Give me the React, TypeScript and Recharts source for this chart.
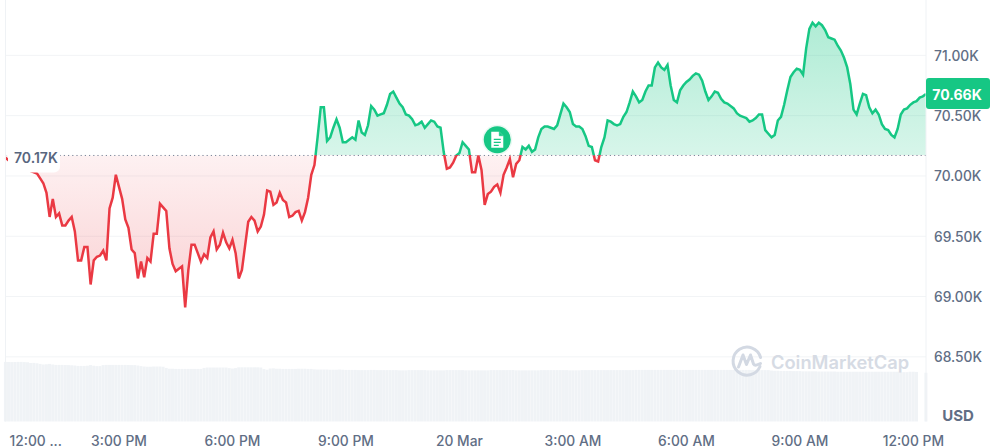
import React from "react";
import {
  ComposedChart, Area, Bar, XAxis, YAxis, CartesianGrid, ReferenceLine, ReferenceDot,
} from "recharts";

const FONT = "Inter, 'Noto Sans', sans-serif";
const GREEN = "#16c784";
const RED = "#ea3943";
const TEXT = "#616e85";

const basePrice = 70.17;
const lastPriceLabel = "70.66K";
const basePriceLabel = "70.17K";

const prices = [
  70.15, 70.13, 70.12, 70.13, 70.12, 70.10, 70.08, 70.05, 70.04, 70.03,
  70.02, 69.98, 69.94, 69.86, 69.66, 69.81, 69.66, 69.69, 69.59, 69.59,
  69.63, 69.66, 69.54, 69.30, 69.30, 69.41, 69.41, 69.10, 69.30, 69.33,
  69.34, 69.38, 69.30, 69.73, 69.82, 70.01, 69.91, 69.81, 69.64, 69.57,
  69.39, 69.36, 69.15, 69.29, 69.16, 69.32, 69.29, 69.52, 69.52, 69.77,
  69.74, 69.71, 69.40, 69.27, 69.21, 69.23, 69.25, 68.91, 69.22, 69.43,
  69.43, 69.36, 69.29, 69.35, 69.32, 69.49, 69.54, 69.39, 69.43, 69.53,
  69.45, 69.40, 69.47, 69.36, 69.15, 69.22, 69.42, 69.62, 69.66, 69.63,
  69.54, 69.58, 69.68, 69.88, 69.87, 69.76, 69.78, 69.86, 69.80, 69.78,
  69.66, 69.67, 69.70, 69.71, 69.63, 69.70, 69.82, 70.01, 70.09, 70.32,
  70.57, 70.57, 70.29, 70.32, 70.40, 70.47, 70.40, 70.28, 70.28, 70.30,
  70.32, 70.30, 70.46, 70.36, 70.34, 70.42, 70.58, 70.55, 70.50, 70.51,
  70.52, 70.59, 70.68, 70.70, 70.65, 70.60, 70.57, 70.51, 70.50, 70.47,
  70.42, 70.43, 70.45, 70.40, 70.43, 70.46, 70.45, 70.41, 70.40, 70.20,
  70.06, 70.07, 70.11, 70.17, 70.19, 70.28, 70.25, 70.22, 70.03, 70.03,
  70.17, 70.05, 69.76, 69.85, 69.87, 69.91, 69.93, 69.86, 70.01, 70.07,
  70.14, 69.99, 70.10, 70.13, 70.24, 70.22, 70.25, 70.20, 70.22, 70.32,
  70.39, 70.41, 70.41, 70.40, 70.39, 70.42, 70.51, 70.60, 70.57, 70.53,
  70.43, 70.41, 70.41, 70.39, 70.33, 70.25, 70.24, 70.13, 70.12, 70.24,
  70.32, 70.46, 70.45, 70.43, 70.42, 70.43, 70.49, 70.53, 70.61, 70.70,
  70.66, 70.61, 70.63, 70.70, 70.75, 70.75, 70.90, 70.94, 70.90, 70.88,
  70.92, 70.75, 70.63, 70.61, 70.71, 70.75, 70.78, 70.80, 70.83, 70.85,
  70.84, 70.79, 70.70, 70.63, 70.66, 70.70, 70.69, 70.64, 70.61, 70.60,
  70.58, 70.56, 70.52, 70.50, 70.49, 70.48, 70.45, 70.46, 70.48, 70.51,
  70.51, 70.38, 70.35, 70.32, 70.34, 70.46, 70.49, 70.59, 70.71, 70.82,
  70.86, 70.89, 70.88, 70.84, 71.06, 71.22, 71.27, 71.24, 71.27, 71.25,
  71.21, 71.15, 71.14, 71.13, 71.08, 71.04, 70.98, 70.90, 70.76, 70.55,
  70.51, 70.60, 70.68, 70.67, 70.57, 70.52, 70.55, 70.51, 70.43, 70.39,
  70.38, 70.34, 70.32, 70.39, 70.51, 70.55, 70.56, 70.59, 70.61, 70.62,
  70.65, 70.66, 70.68,
];

const volumes: (number | null)[] = [
  29.7, 29.7, 29.6, 29.7, 29.7, 29.7, 29.6, 29.5, 29.2, 29.2,
  29.0, 28.7, 28.4, 28.5, 28.7, 28.4, 28.2, 28.2, 28.2, 28.1,
  28.1, 28.0, 27.9, 27.7, 27.7, 27.7, 27.8, 28.1, 27.8, 27.6,
  27.6, 28.1, 28.2, 28.2, 28.2, 28.2, 28.2, 28.2, 28.2, 28.1,
  28.1, 28.1, 27.9, 27.6, 27.4, 27.3, 27.3, 27.4, 27.4, 27.4,
  27.3, 26.7, 26.3, 26.3, 26.2, 26.2, 26.2, 26.2, 26.2, 26.2,
  26.2, 26.2, 26.2, 26.7, 26.9, 26.9, 26.9, 26.9, 26.9, 26.9,
  26.9, 26.6, 26.4, 26.6, 27.0, 27.0, 27.0, 27.0, 27.0, 27.0,
  27.0, 26.9, 26.1, 25.8, 26.4, 26.5, 26.3, 26.3, 26.2, 26.2,
  26.2, 26.2, 26.2, 26.3, 26.3, 26.3, 26.2, 26.2, 26.0, 25.9,
  25.9, 25.9, 25.9, 25.8, 25.8, 25.8, 25.9, 25.8, 25.7, 25.7,
  25.7, 25.7, 25.6, 25.6, 25.6, 25.6, 25.7, 25.7, 25.6, 25.6,
  25.6, 25.6, 25.6, 25.6, 25.6, 25.5, 25.5, 25.5, 25.6, 25.6,
  25.6, 25.6, 25.6, 25.6, 25.5, 25.5, 25.5, 25.5, 25.5, 25.5,
  25.6, 25.6, 25.6, 25.6, 25.6, 25.6, 25.5, 25.5, 25.5, 25.5,
  25.5, 25.5, 25.5, 25.5, 25.6, 25.6, 25.6, 25.6, 25.6, 25.6,
  25.6, 25.6, 25.5, 25.5, 25.5, 25.5, 25.5, 25.5, 25.5, 25.5,
  25.6, 25.6, 25.6, 25.6, 25.6, 25.6, 25.6, 25.6, 25.6, 25.5,
  25.5, 25.5, 25.5, 25.6, 25.6, 25.6, 25.6, 25.6, 25.6, 25.6,
  25.6, 25.6, 25.6, 25.6, 25.6, 25.6, 25.6, 25.6, 25.6, 25.6,
  25.7, 25.7, 25.7, 25.7, 25.7, 25.7, 25.7, 25.7, 25.7, 25.7,
  25.7, 25.7, 25.7, 25.7, 25.7, 25.7, 25.7, 25.7, 25.7, 25.7,
  25.7, 25.7, 25.7, 25.7, 25.7, 25.7, 25.7, 25.7, 25.7, 25.7,
  25.7, 25.7, 25.7, 25.7, 25.7, 25.7, 25.7, 25.6, 25.6, 25.6,
  25.6, 25.6, 25.6, 25.4, 25.3, 25.3, 25.2, 25.2, 25.2, 25.2,
  25.1, 25.1, 25.1, 25.0, 25.0, 25.0, 25.0, 25.0, 24.9, 24.9,
  24.9, 24.9, 24.9, 24.9, 24.8, 24.8, 24.8, 24.8, 24.8, 24.8,
  24.8, 24.8, 24.8, 24.8, 24.8, 24.8, 24.8, 24.8, 24.8, 24.8,
  24.8, 24.8, 24.8, 24.8, 24.6, 24.6, 24.6, 24.8, 24.8, 24.7,
  null, null, 24.3,
];

const priceTicks = [68.5, 69, 69.5, 70, 70.5, 71];
const priceDomain = [67.964, 71.459];
const volumeDomain = [0, 210];
const timeTicks = [0, 36, 72, 108, 144, 180, 216, 252, 288];
const timeLabels = ["12:00 ...", "3:00 PM", "6:00 PM", "9:00 PM", "20 Mar", "3:00 AM", "6:00 AM", "9:00 AM", "12:00 PM"];
const noteIndex = 156;
const notePrice = 70.3;

const data = prices.map((price, i) => ({ i, price, volume: volumes[i] }));

const maxP = Math.max(...prices);
const minP = Math.min(...prices);
const split = (maxP - basePrice) / (maxP - minP);

const XTick = (props: any) => {
  const { x, index } = props;
  const first = index === 0;
  return (
    <text x={first ? x + 4 : x} y={445.5} textAnchor={first ? "start" : "middle"} fontFamily={FONT} fontSize={13.8} fontWeight={500} fill={TEXT}>
      {timeLabels[index]}
    </text>
  );
};

const YTick = (props: any) => {
  const { y, payload } = props;
  return (
    <text x={934} y={y + 5.5} textAnchor="start" fontFamily={FONT} fontSize={13.8} fontWeight={500} fill={TEXT}>
      {`${payload.value.toFixed(2)}K`}
    </text>
  );
};

const BaseLabel = (props: any) => {
  const { cy } = props;
  return (
    <g>
      <rect x={8} y={cy - 11} width={52} height={28} rx={6} fill="#fff" />
      <text x={14} y={cy + 7.5} fontFamily={FONT} fontSize={14} fontWeight={600} fill="#58667e">{basePriceLabel}</text>
    </g>
  );
};

const LastLabel = () => (
  <g>
    <rect x={926} y={78} width={64} height={31} rx={3} fill={GREEN} />
    <text x={957} y={99.5} textAnchor="middle" fontFamily={FONT} fontSize={14} fontWeight={700} fill="#fff">{lastPriceLabel}</text>
  </g>
);

const NoteMarker = (props: any) => {
  const { cx, cy } = props;
  return (
    <g transform={`translate(${cx},${cy})`}>
      <circle r={15} fill="#e8f9f2" />
      <circle r={13.5} fill={GREEN} />
      <path d="M-6 -8 H2 L6 -4 V8 H-6 Z" fill="#fff" />
      <path d="M2 -8 V-4 H6" fill={GREEN} stroke={GREEN} strokeWidth={0.6} />
      <path d="M-3.5 -0.5 H3.5 M-3.5 2.5 H3.5 M-3.5 5.5 H1.5" stroke={GREEN} strokeWidth={1.3} />
    </g>
  );
};

export default function App() {
  return (
    <div style={{ position: "absolute", left: 0, top: 0, width: 995, height: 448, background: "#fff", overflow: "hidden" }}>
      <ComposedChart width={995} height={448} data={data} margin={{ top: 0, right: 0, bottom: 0, left: 0 }}>
        <defs>
          <linearGradient id="lineSplit" x1="0" y1="0" x2="0" y2="1">
            <stop offset={split} stopColor={GREEN} />
            <stop offset={split} stopColor={RED} />
          </linearGradient>
          <linearGradient id="fillSplit" x1="0" y1="0" x2="0" y2="1">
            <stop offset={0} stopColor={GREEN} stopOpacity={0.34} />
            <stop offset={split} stopColor={GREEN} stopOpacity={0.17} />
            <stop offset={split} stopColor={RED} stopOpacity={0.07} />
            <stop offset={1} stopColor={RED} stopOpacity={0.24} />
          </linearGradient>
        </defs>
        <CartesianGrid yAxisId="price" vertical={false} stroke="#f2f4f6" strokeWidth={1} horizontalValues={priceTicks} />
        <XAxis dataKey="i" type="number" domain={[0, prices.length - 1]} ticks={timeTicks} interval={0} height={26.5} axisLine={false} tickLine={false} tick={<XTick />} />
        <YAxis yAxisId="volume" orientation="left" width={5.5} domain={volumeDomain} tick={false} tickLine={false} axisLine={{ stroke: "#eff2f5" }} />
        <YAxis yAxisId="price" orientation="right" width={69} domain={priceDomain} allowDataOverflow ticks={priceTicks} interval={0} tickLine={false} axisLine={{ stroke: "#eff2f5" }} tick={<YTick />} />
        <Bar yAxisId="volume" dataKey="volume" barSize={3} fill="#f0f3f6" isAnimationActive={false} />
        <Area yAxisId="price" type="linear" dataKey="price" baseValue={basePrice} stroke="url(#lineSplit)" strokeWidth={2.5} fill="url(#fillSplit)" fillOpacity={1} dot={false} activeDot={false} isAnimationActive={false} />
        <ReferenceLine yAxisId="price" y={basePrice} stroke="#7a8599" strokeWidth={1} strokeDasharray="1.2 3" />
        <ReferenceDot yAxisId="price" x={0} y={basePrice} r={1} ifOverflow="visible" shape={<BaseLabel />} />
        <ReferenceDot yAxisId="price" x={noteIndex} y={notePrice} r={1} ifOverflow="visible" shape={<NoteMarker />} />
        <ReferenceDot yAxisId="price" x={prices.length - 1} y={prices[prices.length - 1]} r={1} ifOverflow="visible" shape={<LastLabel />} />
      </ComposedChart>
      <svg width={995} height={448} style={{ position: "absolute", left: 0, top: 0, pointerEvents: "none" }}>
        <g transform="translate(747,360.5)" fill="none" stroke="#d3d9e3" strokeWidth={3}>
          <path d="M13 6 A14 14 0 1 1 13.6 -3" strokeLinecap="round" />
          <path d="M-8.5 6.5 L-4 -5.5 L-0.5 4 L3.5 -5.5 L6.5 3.5 Q8 6 13.5 3" strokeLinejoin="round" strokeLinecap="round" />
        </g>
        <text x={771} y={368.5} fontFamily={FONT} fontSize={18.3} fontWeight={600} fill="#d6dbe4">CoinMarketCap</text>
        <text x={958} y={420.5} textAnchor="middle" fontFamily={FONT} fontSize={15} fontWeight={700} fill={TEXT}>USD</text>
      </svg>
    </div>
  );
}
